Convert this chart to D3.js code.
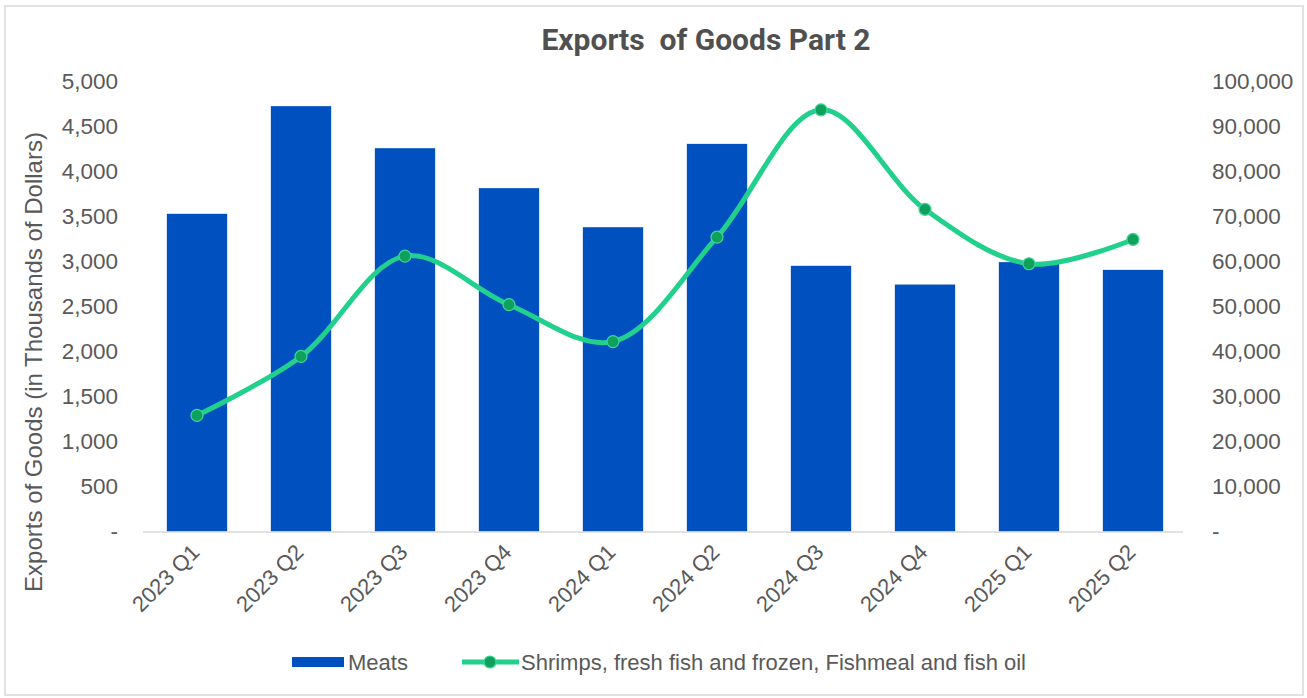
<!DOCTYPE html>
<html>
<head>
<meta charset="utf-8">
<script src="https://cdn.jsdelivr.net/npm/d3@7"></script>
<style>
  html, body { margin: 0; padding: 0; background: #fff; }
  svg { display: block; }
</style>
</head>
<body>
<script>
// Quarterly export figures (thousands of dollars)
const categories = ["2023 Q1","2023 Q2","2023 Q3","2023 Q4","2024 Q1","2024 Q2","2024 Q3","2024 Q4","2025 Q1","2025 Q2"];
const meats = [3530, 4726, 4259, 3815, 3381, 4307, 2952, 2744, 2993, 2907];
const seafood = [25800, 38900, 61200, 50400, 42200, 65400, 93700, 71600, 59500, 64900];
const leftTicks = [0, 500, 1000, 1500, 2000, 2500, 3000, 3500, 4000, 4500, 5000];
const rightTicks = [0, 10000, 20000, 30000, 40000, 50000, 60000, 70000, 80000, 90000, 100000];
const seriesNames = ["Meats", "Shrimps, fresh fish and frozen, Fishmeal and fish oil"];

const W = 1307, H = 698;
const barColor = "#0050BF";
const lineColor = "#20D08C";
const markerColor = "#0FA05C";
const textColor = "#595959";
const font = "'Liberation Sans', Arial, sans-serif";
const fs = 22;

const svg = d3.select("body").append("svg").attr("width", W).attr("height", H);

// outer frame
svg.append("rect").attr("x", 5).attr("y", 6).attr("width", W - 9).attr("height", H - 9)
  .attr("fill", "#fff").attr("stroke", "#e2e2e2").attr("stroke-width", 2);

const plot = { left: 145, right: 1185, top: 81.5, bottom: 531.5 };

const x = d3.scaleBand().domain(categories).range([plot.left, plot.right]).paddingInner(0.42).paddingOuter(0.21);
const yL = d3.scaleLinear().domain([0, 5000]).range([plot.bottom, plot.top]);
const yR = d3.scaleLinear().domain([0, 100000]).range([plot.bottom, plot.top]);

const fmt = v => v === 0 ? "-" : d3.format(",")(v);

// title
svg.append("text").attr("x", 706).attr("y", 50).attr("text-anchor", "middle")
  .attr("font-family", "Roboto, 'Liberation Sans', sans-serif").attr("font-weight", "bold")
  .attr("font-size", 30).attr("fill", "#505050").attr("xml:space", "preserve")
  .text("Exports  of Goods Part 2");

// bars
svg.append("g").selectAll("rect").data(meats).join("rect")
  .attr("x", (d, i) => x(categories[i]))
  .attr("width", x.bandwidth())
  .attr("y", d => yL(d))
  .attr("height", d => yL(0) - yL(d))
  .attr("fill", barColor);

// baseline
svg.append("line").attr("x1", plot.left - 2).attr("x2", plot.right - 2)
  .attr("y1", plot.bottom + 0.5).attr("y2", plot.bottom + 0.5)
  .attr("stroke", "#d9d9d9").attr("stroke-width", 1.5);

// left axis
const leftAxis = d3.axisLeft(yL).tickValues(leftTicks).tickFormat(fmt).tickSize(0).tickPadding(0);
const gl = svg.append("g").attr("transform", `translate(118,0)`).call(leftAxis);
gl.select(".domain").remove();
gl.selectAll("text").attr("font-family", font).attr("font-size", 22.5).attr("fill", textColor);

// right axis
const rightAxis = d3.axisRight(yR).tickValues(rightTicks).tickFormat(fmt).tickSize(0).tickPadding(0);
const gr = svg.append("g").attr("transform", `translate(1212,0)`).call(rightAxis);
gr.select(".domain").remove();
gr.selectAll("text").attr("font-family", font).attr("font-size", 22.5).attr("fill", textColor);

// category axis
const bottomAxis = d3.axisBottom(x).tickSize(0).tickPadding(0);
const gb = svg.append("g").attr("transform", `translate(0,${plot.bottom})`).call(bottomAxis);
gb.select(".domain").remove();
gb.selectAll("text")
  .attr("font-family", font).attr("font-size", fs).attr("fill", textColor)
  .attr("text-anchor", "end")
  .attr("dy", null).attr("y", 0)
  .attr("transform", "translate(4,22) rotate(-45)");

// left axis title
svg.append("text")
  .attr("transform", `translate(42,362) rotate(-90)`)
  .attr("text-anchor", "middle").attr("font-family", font).attr("font-size", 24)
  .attr("fill", textColor)
  .text("Exports of Goods (in Thousands of Dollars)");

// smoothed line on the secondary axis
const cx = i => x(categories[i]) + x.bandwidth() / 2;
const line = d3.line().x((d, i) => cx(i)).y(d => yR(d)).curve(d3.curveCatmullRom.alpha(0.5));
svg.append("path").datum(seafood).attr("d", line)
  .attr("fill", "none").attr("stroke", lineColor).attr("stroke-width", 5)
  .attr("stroke-linejoin", "round").attr("stroke-linecap", "round");

svg.append("g").selectAll("circle").data(seafood).join("circle")
  .attr("cx", (d, i) => cx(i)).attr("cy", d => yR(d)).attr("r", 6)
  .attr("fill", markerColor).attr("stroke", "#3ED79A").attr("stroke-width", 1.2);

// legend
const lg = svg.append("g").attr("font-family", font).attr("font-size", fs).attr("fill", textColor);
lg.append("rect").attr("x", 292).attr("y", 657).attr("width", 52).attr("height", 10).attr("fill", barColor);
lg.append("text").attr("x", 348).attr("y", 670).text(seriesNames[0]);
lg.append("line").attr("x1", 462).attr("x2", 519).attr("y1", 662).attr("y2", 662)
  .attr("stroke", lineColor).attr("stroke-width", 5);
lg.append("circle").attr("cx", 490).attr("cy", 662).attr("r", 6)
  .attr("fill", markerColor).attr("stroke", "#3ED79A").attr("stroke-width", 1.2);
lg.append("text").attr("x", 521).attr("y", 670).text(seriesNames[1]);
</script>
</body>
</html>
